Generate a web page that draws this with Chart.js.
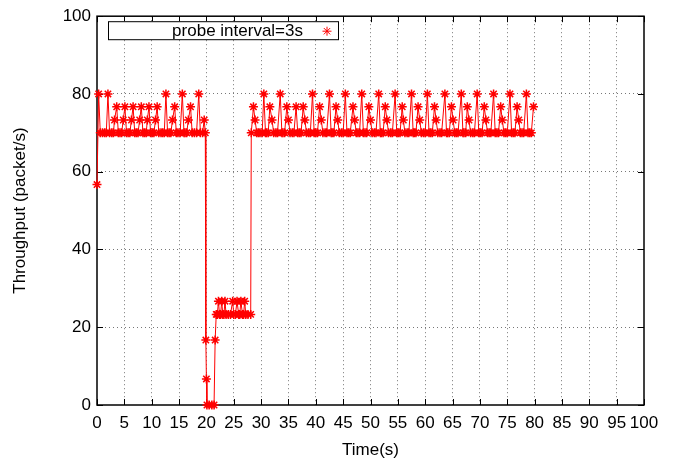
<!DOCTYPE html>
<html>
<head>
<meta charset="utf-8">
<script src="https://cdn.jsdelivr.net/npm/chart.js@4/dist/chart.umd.min.js"></script>
<style>
  html, body { margin: 0; padding: 0; background: #fff; }
  canvas { display: block; }
</style>
</head>
<body>
<canvas id="tput" width="674" height="463"></canvas>
<script>
// Time (s) of each sample
const times = [
  0, 0.3, 0.6, 1.0, 1.4, 1.7, 2.0, 2.3, 2.7, 3.0, 3.2, 3.6, 3.9, 4.2, 4.5, 4.8,
  5.1, 5.4, 5.7, 6.0, 6.3, 6.6, 6.9, 7.2, 7.5, 7.8, 8.1, 8.4, 8.7, 9.0, 9.2, 9.5,
  9.8, 10.1, 10.4, 10.7, 11.0, 11.3, 11.7, 12.0, 12.3, 12.6, 12.9, 13.2, 13.5,
  13.8, 14.2, 14.5, 14.8, 15.2, 15.6, 15.9, 16.1, 16.4, 16.7, 17.1, 17.4, 17.8,
  18.2, 18.6, 18.9, 19.3, 19.6, 19.8,
  19.9, 20.0, 20.1, 20.5, 21.0, 21.4, 21.6,
  21.8, 22.0, 22.2, 22.4, 22.6, 22.8, 23.0, 23.2, 23.4, 23.6, 24.0, 24.4, 24.8,
  25.0, 25.3, 25.6, 25.9, 26.1, 26.3, 26.6, 26.8, 27.0, 27.2, 27.6, 28.1,
  28.2, 28.6, 28.9, 29.2, 29.5, 29.8, 30.2, 30.5, 30.8, 31.0, 31.3, 31.6, 32.0,
  32.3, 32.7, 33.0, 33.5, 33.8, 34.0, 34.3, 34.7, 35.0, 35.3, 35.7, 36.0, 36.4,
  36.7, 37.0, 37.3, 37.7, 38.0, 38.3, 38.7, 39.0, 39.4, 39.7, 40.0, 40.3, 40.7,
  41.0, 41.3, 41.7, 42.0, 42.5, 42.8, 43.0, 43.3, 43.7, 44.0, 44.3, 44.7, 45.0,
  45.4, 45.7, 46.0, 46.3, 46.8, 47.1, 47.4, 47.7, 48.0, 48.4, 48.7, 49.0, 49.3,
  49.7, 50.0, 50.3, 50.7, 51.0, 51.5, 51.8, 52.0, 52.3, 52.7, 53.0, 53.3, 53.7,
  54.0, 54.5, 54.8, 55.1, 55.4, 55.8, 56.0, 56.3, 56.7, 57.0, 57.5, 57.8, 58.0,
  58.3, 58.7, 59.0, 59.3, 59.7, 60.0, 60.4, 60.7, 61.0, 61.3, 61.7, 62.0, 62.3,
  62.7, 63.0, 63.6, 63.9, 64.1, 64.4, 64.8, 65.1, 65.4, 65.7, 66.0, 66.6, 66.9,
  67.1, 67.4, 67.7, 68.0, 68.3, 68.7, 69.0, 69.5, 69.8, 70.1, 70.4, 70.8, 71.1,
  71.4, 71.7, 72.0, 72.5, 72.8, 73.1, 73.4, 73.8, 74.1, 74.4, 74.7, 75.0, 75.5,
  75.8, 76.1, 76.4, 76.8, 77.1, 77.4, 77.7, 78.0, 78.5, 78.8, 79.1, 79.4, 79.8
];

// Throughput (packet/s) at each of those times
const throughput = [
  56.7, 80, 70, 70, 70, 70, 80, 70, 70, 70, 73.3, 76.7, 70, 70, 70, 73.3,
  76.7, 70, 70, 70, 73.3, 76.7, 70, 70, 70, 73.3, 76.7, 70, 70, 70, 73.3, 76.7,
  70, 70, 70, 73.3, 76.7, 70, 70, 70, 70, 80, 70, 70, 70,
  73.3, 76.7, 70, 70, 70, 80, 70, 70, 70, 73.3, 76.7, 70, 70,
  70, 80, 70, 70, 73.3, 70,
  16.7, 6.7, 0, 0, 0, 0, 16.7,
  23.3, 23.3, 26.7, 23.3, 23.3, 26.7, 23.3, 23.3, 26.7, 23.3, 23.3, 23.3, 26.7,
  23.3, 23.3, 26.7, 23.3, 23.3, 26.7, 23.3, 23.3, 26.7, 23.3, 23.3, 23.3,
  70, 76.7, 73.3, 70, 70, 70, 70, 80, 70, 70, 70, 76.7, 73.3,
  70, 70, 70, 80, 70, 70, 70, 76.7, 73.3, 70, 70, 70, 76.7,
  70, 70, 70, 76.7, 73.3, 70, 70, 70, 80, 70, 70, 70, 76.7,
  73.3, 70, 70, 70, 80, 70, 70, 70, 76.7, 73.3, 70, 70, 70,
  80, 70, 70, 70, 76.7, 73.3, 70, 70, 70, 80, 70, 70, 70,
  76.7, 73.3, 70, 70, 70, 80, 70, 70, 70, 76.7, 73.3, 70, 70,
  70, 80, 70, 70, 70, 76.7, 73.3, 70, 70, 70, 80, 70, 70,
  70, 76.7, 73.3, 70, 70, 70, 80, 70, 70, 70, 76.7, 73.3, 70,
  70, 70, 80, 70, 70, 70, 76.7, 73.3, 70, 70, 70, 80, 70,
  70, 70, 76.7, 73.3, 70, 70, 70, 80, 70, 70, 70, 76.7, 73.3,
  70, 70, 70, 80, 70, 70, 70, 76.7, 73.3, 70, 70, 70, 80,
  70, 70, 70, 76.7, 73.3, 70, 70, 70, 80, 70, 70, 70, 76.7
];

const seriesLabel = 'probe interval=3s';
const xTitle = 'Time(s)';
const yTitle = 'Throughput (packet/s)';

const FONT = "'Liberation Sans', Arial, sans-serif";
const RED = '#ff0000';

let points = [];
for (let i = 0; i < times.length; i++) {
  points.push({ x: times[i], y: throughput[i] });
}

// gnuplot style frame: border + ticks pointing inwards on all four sides
const framePlugin = {
  id: 'frame',
  beforeDatasetsDraw(chart) {
    let ctx = chart.ctx;
    let a = chart.chartArea;
    let xs = chart.scales.x, ys = chart.scales.y;
    let len = 6;
    ctx.save();
    ctx.strokeStyle = '#000';
    ctx.lineWidth = 1;
    ctx.beginPath();
    xs.ticks.forEach(t => {
      let px = Math.round(xs.getPixelForValue(t.value)) + 0.5;
      ctx.moveTo(px, a.bottom); ctx.lineTo(px, a.bottom - len);
      ctx.moveTo(px, a.top); ctx.lineTo(px, a.top + len);
    });
    ys.ticks.forEach(t => {
      let py = Math.round(ys.getPixelForValue(t.value)) + 0.5;
      ctx.moveTo(a.left, py); ctx.lineTo(a.left + len, py);
      ctx.moveTo(a.right, py); ctx.lineTo(a.right - len, py);
    });
    ctx.stroke();
    ctx.lineWidth = 1.5;
    ctx.strokeRect(a.left, a.top, a.right - a.left, a.bottom - a.top);
    ctx.restore();
  }
};

// key box in the top left corner of the plot
const keyPlugin = {
  id: 'key',
  afterDatasetsDraw(chart) {
    let ctx = chart.ctx;
    let a = chart.chartArea;
    let x0 = a.left + 11, y0 = a.top + 5, w = 230, h = 18;
    ctx.save();
    ctx.fillStyle = '#fff';
    ctx.fillRect(x0, y0, w, h);
    ctx.strokeStyle = '#000';
    ctx.lineWidth = 1;
    ctx.strokeRect(x0 + 0.5, y0 + 0.5, w, h);
    ctx.fillStyle = '#000';
    ctx.font = '17px ' + FONT;
    ctx.textAlign = 'right';
    ctx.textBaseline = 'middle';
    ctx.fillText(seriesLabel, x0 + 195, y0 + h / 2 + 1);
    let style = chart.getDatasetMeta(0).data[0].options;
    ctx.strokeStyle = RED;
    ctx.fillStyle = RED;
    Chart.helpers.drawPoint(ctx, {
      pointStyle: 'star', radius: style.radius, borderWidth: style.borderWidth, rotation: 0
    }, x0 + 219, y0 + h / 2 + 1);
    ctx.restore();
  }
};

Chart.defaults.font.family = FONT;
Chart.defaults.font.size = 17;
Chart.defaults.color = '#000';

let gridColor = ctx => (ctx.tick && (ctx.tick.value === 0 || ctx.tick.value === 100)) ? 'rgba(0,0,0,0)' : '#777';

let ctx = document.getElementById('tput');
let chart = new Chart(ctx, {
  type: 'line',
  data: {
    datasets: [{
      label: seriesLabel,
      data: points,
      borderColor: RED,
      borderWidth: 1,
      backgroundColor: RED,
      pointStyle: 'star',
      pointRadius: 4.5,
      pointBorderColor: RED,
      pointBorderWidth: 1.5,
      pointHoverRadius: 4.5,
      tension: 0,
      fill: false,
      clip: false
    }]
  },
  options: {
    responsive: false,
    animation: false,
    events: [],
    layout: { padding: { top: 14, right: 30, left: 0, bottom: 0 } },
    plugins: {
      legend: { display: false },
      tooltip: { enabled: false }
    },
    scales: {
      x: {
        type: 'linear',
        min: 0,
        max: 100,
        afterFit(scale) { scale.height = 58; },
        ticks: { stepSize: 5, autoSkip: false, maxRotation: 0, padding: 8 },
        grid: { drawTicks: false, color: gridColor, lineWidth: 1 },
        border: { display: false, dash: [1, 3] },
        title: { display: true, text: xTitle, padding: { top: 0, bottom: 2 } }
      },
      y: {
        min: 0,
        max: 100,
        afterFit(scale) { scale.width = 97; },
        ticks: { stepSize: 20, padding: 6 },
        grid: { drawTicks: false, color: gridColor, lineWidth: 1 },
        border: { display: false, dash: [1, 3] },
        title: { display: true, text: yTitle, padding: { top: 10, bottom: 0 } }
      }
    }
  },
  plugins: [framePlugin, keyPlugin]
});
</script>
</body>
</html>
